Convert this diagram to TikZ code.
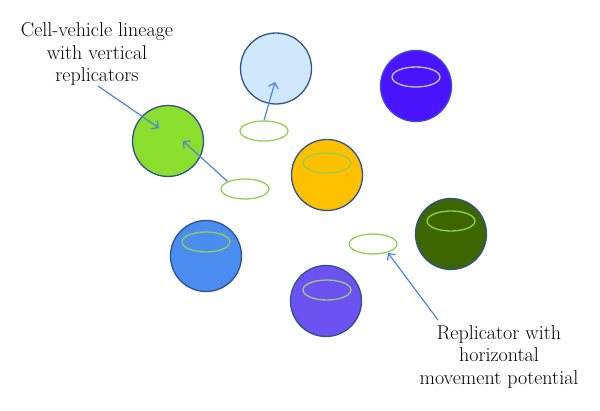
\documentclass[tikz,border=0pt]{standalone}
\usepackage{tikz}
\usetikzlibrary{shapes.geometric, arrows.meta}

\definecolor{rim}{HTML}{2F528F}
\definecolor{ring}{HTML}{92D050}
\definecolor{pointer}{HTML}{4A86DC}

\begin{document}
\begin{tikzpicture}[x=1pt, y=-1pt, >={Straight Barb[length=5pt, width=10pt]},
    cell/.style={circle, draw=rim, line width=1.3pt, minimum size=71pt, inner sep=0pt},
    repl/.style={ellipse, draw=ring, line width=1.3pt, minimum width=48pt, minimum height=20pt, inner sep=0pt},
    note/.style={align=center, font=\fontsize{20}{22.5}\selectfont},
    pointer/.style={->, draw=pointer, line width=1.2pt}]
  \useasboundingbox (0,0) rectangle (600,411);
  % cells
  \node[cell, fill={rgb,255:red,208;green,232;blue,252}] (lightblue) at (276,68.5) {};
  \node[cell, fill={rgb,255:red,139;green,222;blue,46}] (green) at (168,141) {};
  \node[cell, draw={rgb,255:red,60;green,70;blue,230}, fill={rgb,255:red,75;green,20;blue,255}] (violet) at (416,86) {};
  \node[cell, fill={rgb,255:red,255;green,192;blue,0}] (orange) at (327,175) {};
  \node[cell, fill={rgb,255:red,61;green,102;blue,0}] (darkgreen) at (451,234) {};
  \node[cell, fill={rgb,255:red,74;green,140;blue,240}] (blue) at (206,256) {};
  \node[cell, fill={rgb,255:red,108;green,82;blue,240}] (purple) at (326,301) {};
  % replicators inside cells
  \node[repl, draw={rgb,255:red,200;green,200;blue,180}] (rviolet) at (416,77) {};
  \node[repl] (rorange) at (327,163) {};
  \node[repl] (rdarkgreen) at (451,221) {};
  \node[repl] (rblue) at (206,242) {};
  \node[repl, draw={rgb,255:red,160;green,200;blue,130}] (rpurple) at (327,290) {};
  % free replicators
  \node[repl, fill=white] (free1) at (264,131) {};
  \node[repl, fill=white] (free2) at (245,189) {};
  \node[repl, fill=white] (free3) at (373,244) {};
  % labels
  \node[note] (lineage) at (97,54) {Cell-vehicle lineage\\with vertical\\replicators};
  \node[note] (horizontal) at (499,357) {Replicator with\\horizontal\\movement potential};
  % arrows
  \coordinate (tip1) at (275,82);
  \coordinate (tip2) at (183,141);
  \coordinate (tip3) at (159,128);
  \coordinate (tip4) at (388,253);
  \coordinate (tail3) at (98,86);
  \coordinate (tail4) at (438,320);
  \draw[pointer] (free1.north) -- (tip1);
  \draw[pointer] (free2.north west) -- (tip2);
  \draw[pointer] (tail3) -- (tip3);
  \draw[pointer] (tail4) -- (tip4);
\end{tikzpicture}
\end{document}
